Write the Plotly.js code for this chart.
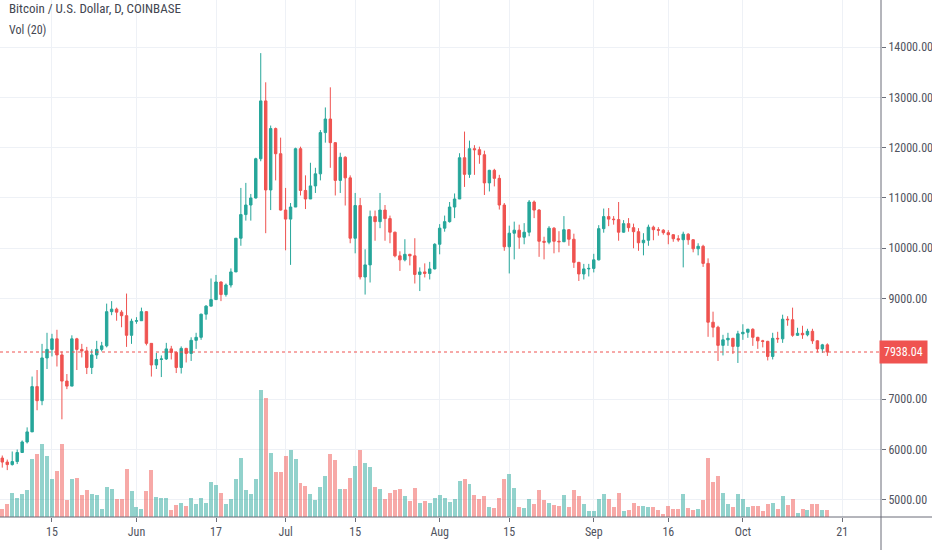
<!DOCTYPE html>
<html>
<head>
<meta charset="utf-8">
<script src="https://cdn.plot.ly/plotly-3.0.1.min.js"></script>
<style>
  html, body { margin: 0; padding: 0; background: #ffffff; }
  #chart { width: 932px; height: 550px; }
</style>
</head>
<body>
<div id="chart"></div>
<script>
// ---- Data: Bitcoin / U.S. Dollar, daily, Coinbase (5 May 2019 - 18 Oct 2019) ----
const START_DATE = '2019-05-05';

const openPrices = [
  // May 5-31
  5830,5750,5700,5760,5940,6150,6350,7250,6970,7820,7990,8200,7880,7360,7260,8200,7990,7960,7630,7880,7990,8060,8740,8790,8730,8660,8270,
  // Jun
  8550,8560,8740,8110,7680,7790,7800,8000,7930,7630,8010,7910,8170,8230,8690,8850,8980,9330,9080,9270,9530,10200,10670,10860,11000,11780,12930,11160,12380,11880,
  // Jul
  10760,10580,10820,11980,11150,10980,11240,11480,12300,12570,12100,11350,11810,11400,10200,10850,9430,9670,10630,10530,10760,10590,10320,9850,9770,9880,9850,9480,9530,9500,9590,
  // Aug
  10080,10400,10530,10820,10980,11800,11470,11980,11960,11860,11300,11550,11390,10860,10030,10300,10360,10220,10320,10920,10760,10140,10120,10400,10140,10130,10370,10180,9720,9490,9590,
  // Sep
  9600,9770,10390,10630,10580,10570,10320,10490,10410,10330,10110,10160,10420,10370,10360,10310,10270,10190,10170,10280,10170,9990,10040,9700,8530,8430,8070,8180,8210,8050,
  // Oct 1-18
  8300,8330,8390,8230,8160,8150,7850,8210,8200,8590,8580,8270,8310,8280,8350,8160,8000,8080
];
const highPrices = [
  5880,5800,5960,6000,6180,6440,7450,7580,8100,8320,8300,8380,7950,7500,8270,8220,8100,8040,7990,8160,8140,8900,8950,8820,8770,9100,8600,
  8630,8820,8750,8110,7920,7870,8120,8060,7950,8050,8020,8230,8320,8700,8870,9400,9470,9340,9300,9600,10200,11200,11300,11080,11800,13880,13300,12440,12400,12200,
  11200,10900,12000,12020,11450,11700,11600,12350,12800,13200,12110,11900,11830,11450,11100,11000,9980,10750,10750,11100,10860,10650,10330,9940,10180,9890,10200,9620,9700,9730,10100,
  10480,10650,10920,11090,11890,12320,12140,12050,12020,11940,11560,11580,11460,10900,10450,10530,10470,10500,10960,10950,10780,10230,10440,10420,10340,10640,10380,10290,9730,9690,9690,
  9890,10460,10790,10800,10640,10920,10560,10600,10490,10400,10300,10470,10450,10420,10380,10360,10280,10260,10330,10300,10180,10100,10070,9800,8740,8460,8280,8320,8220,8360,
  8490,8400,8410,8240,8180,8160,8320,8340,8680,8650,8820,8420,8460,8400,8400,8170,8100,8110
];
const lowPrices = [
  5640,5590,5680,5710,5930,6120,6350,6780,6880,7600,7850,7650,6600,7200,7260,7580,7830,7500,7500,7800,7950,8030,8670,8560,8430,8040,8100,
  8500,8560,8070,7450,7600,7440,7780,7790,7520,7510,7730,7760,8000,8180,8580,8850,8980,8950,9040,9220,9530,10050,10550,10550,10990,11730,10300,10760,11350,10750,
  9960,9670,10820,11050,10780,10980,11100,11350,12100,11600,11050,11100,10850,10100,9900,9380,9080,9320,10150,10400,10150,10100,9820,9550,9740,9660,9300,9150,9420,9380,9580,
  9880,10330,10510,10600,10980,11220,11400,11460,11680,11060,11130,11230,10770,9950,9500,9780,9990,10080,10240,10600,9830,9780,10080,9900,9920,10130,10050,9610,9350,9380,9440,
  9520,9760,10310,10440,10470,10150,10310,10330,10000,9950,9860,10050,10160,10250,10270,10080,10130,10130,9620,10070,9920,9860,9630,8240,8230,7760,7870,8060,7900,7720,
  8180,8220,8060,8000,8030,7770,7790,8120,8120,8460,8240,8260,8200,8250,8100,7930,7920,7860
];
const closePrices = [
  5750,5700,5760,5940,6150,6350,7250,6970,7820,7990,8200,7880,7360,7260,8200,7990,7960,7630,7880,7990,8060,8740,8790,8730,8660,8270,8550,
  8560,8740,8110,7680,7790,7800,8000,7930,7630,8010,7910,8170,8230,8690,8850,8980,9330,9080,9270,9530,10200,10670,10860,11000,11780,12930,11160,12380,11880,10760,
  10580,10820,11980,11150,10980,11240,11480,12300,12570,12100,11350,11810,11400,10200,10850,9430,9670,10630,10530,10760,10590,10320,9850,9770,9880,9850,9480,9530,9500,9590,10080,
  10400,10530,10820,10980,11800,11470,11980,11960,11860,11300,11550,11390,10860,10030,10300,10360,10220,10320,10920,10760,10140,10120,10400,10140,10130,10370,10180,9720,9490,9590,9600,
  9770,10390,10630,10580,10570,10320,10490,10410,10330,10110,10160,10420,10370,10360,10310,10270,10190,10170,10280,10170,9990,10040,9700,8530,8430,8070,8180,8210,8050,8300,
  8330,8390,8230,8160,8150,7850,8210,8200,8590,8580,8270,8310,8280,8350,8160,8000,8080,7938.04
];
const volumes = [
  5000,8000,14600,11600,13600,16400,34600,38000,44000,36400,22800,27600,44000,10200,22800,23400,13000,16000,13800,13000,4800,17800,16600,11000,11000,28800,15400,
  6200,4600,15400,28200,12200,11600,11600,4200,7200,8600,6800,11400,7800,11400,8600,21000,19000,14600,7800,11000,23000,35400,16000,14000,23000,76000,71600,38600,26800,26800,
  36600,40000,35000,20600,18800,13600,10000,18200,24800,37800,34200,16600,16600,23400,30800,40000,32600,30000,18200,16600,11000,14400,16000,16600,12400,9400,17400,8400,9400,8400,11400,
  13000,11400,9000,11000,21400,22600,19800,13000,11000,12400,6000,5400,11400,22600,25800,17400,6200,5400,10800,7800,16000,10200,8400,7200,6600,13000,6200,16000,12800,7800,3400,
  3400,11000,13600,11000,6200,14600,3400,4000,8600,6800,6600,6200,6200,4000,1800,6800,4800,4800,13600,5600,4000,4800,10000,35400,21200,24800,14600,7800,6200,13600,
  11000,6200,6800,6800,3400,7800,8600,4800,12800,7000,11000,2600,4800,4000,7800,7800,4000,4000
];

const tickDates  = ['2019-05-15','2019-06-01','2019-06-17','2019-07-01','2019-07-15','2019-08-01','2019-08-15','2019-09-01','2019-09-16','2019-10-01','2019-10-21'];
const tickLabels = ['15','Jun','17','Jul','15','Aug','15','Sep','16','Oct','21'];
const priceTicks = [5000,6000,7000,9000,10000,11000,12000,13000,14000];
const lastPrice  = 7938.04;

// ---- Build dates (one per trading day, consecutive calendar days) ----
const dates = [];
{
  const d0 = new Date(START_DATE + 'T00:00:00Z');
  for (let i = 0; i < closePrices.length; i++) {
    const d = new Date(d0.getTime() + i * 86400000);
    dates.push(d.toISOString().slice(0, 10));
  }
}

const UP = '#26a69a', DOWN = '#ef5350';
const UP_VOL = 'rgba(38,166,154,0.5)', DOWN_VOL = 'rgba(239,83,80,0.5)';
const volColors = closePrices.map((c, i) => c >= openPrices[i] ? UP_VOL : DOWN_VOL);

const FONT = '"Liberation Sans Narrow", "Roboto Condensed", "Open Sans", sans-serif';
const TXT = '#50535e';
const GRID = '#eef1f6';
const AXIS = '#6a6d78';

const volumeTrace = {
  type: 'bar',
  x: dates,
  y: volumes,
  marker: { color: volColors, line: { width: 0 } },
  width: 0.8 * 86400000,
  xaxis: 'x',
  yaxis: 'y',
  hoverinfo: 'skip',
  showlegend: false
};

const candleTrace = {
  type: 'candlestick',
  x: dates,
  open: openPrices,
  high: highPrices,
  low: lowPrices,
  close: closePrices,
  increasing: { line: { color: UP, width: 1 }, fillcolor: UP },
  decreasing: { line: { color: DOWN, width: 1 }, fillcolor: DOWN },
  whiskerwidth: 0,
  xaxis: 'x',
  yaxis: 'y2',
  hoverinfo: 'skip',
  showlegend: false
};

const layout = {
  width: 932,
  height: 550,
  margin: { l: 0, r: 51, t: 0, b: 33, pad: 0 },
  paper_bgcolor: '#ffffff',
  plot_bgcolor: '#ffffff',
  font: { family: FONT, size: 11, color: TXT },
  showlegend: false,
  bargap: 0,
  xaxis: {
    type: 'date',
    range: ['2019-05-04 13:00', '2019-10-28 19:00'],
    tickmode: 'array',
    tickvals: tickDates,
    ticktext: tickLabels,
    ticks: 'outside',
    ticklen: 4,
    tickcolor: AXIS,
    showgrid: true,
    gridcolor: GRID,
    gridwidth: 1,
    zeroline: false,
    showline: false,
    rangeslider: { visible: false },
    tickfont: { family: FONT, size: 12, color: TXT },
    fixedrange: true
  },
  yaxis: {
    range: [0, 310000],
    visible: false,
    showgrid: false,
    zeroline: false,
    fixedrange: true
  },
  yaxis2: {
    overlaying: 'y',
    side: 'right',
    range: [4658, 14936],
    tickmode: 'array',
    tickvals: priceTicks,
    ticktext: priceTicks.map(v => v.toFixed(2)),
    ticks: 'outside',
    ticklen: 4,
    tickcolor: AXIS,
    showgrid: true,
    gridcolor: GRID,
    gridwidth: 1,
    zeroline: false,
    showline: false,
    tickfont: { family: FONT, size: 12, color: TXT },
    fixedrange: true
  },
  shapes: [
    // last price dotted line
    { type: 'line', xref: 'paper', yref: 'y2', x0: 0, x1: 1, y0: lastPrice, y1: lastPrice,
      line: { color: DOWN, width: 1, dash: 'dot' } },
    // price axis border (full height)
    { type: 'line', xref: 'paper', yref: 'paper', x0: 1, x1: 1, y0: -0.2, y1: 1.0,
      line: { color: AXIS, width: 1 } },
    // time axis border (full width)
    { type: 'line', xref: 'paper', yref: 'paper', x0: 0, x1: 1.06, y0: 0, y1: 0,
      line: { color: AXIS, width: 1 } }
  ],
  annotations: [
    { xref: 'paper', yref: 'paper', x: 0.008, y: 0.984, xanchor: 'left', yanchor: 'middle',
      text: 'Bitcoin / U.S. Dollar, D, COINBASE', showarrow: false,
      font: { family: FONT, size: 13, color: '#434651' } },
    { xref: 'paper', yref: 'paper', x: 0.008, y: 0.942, xanchor: 'left', yanchor: 'middle',
      text: 'Vol (20)', showarrow: false,
      font: { family: FONT, size: 12, color: '#434651' } },
    { xref: 'paper', yref: 'y2', x: 0.998, y: lastPrice, xanchor: 'left', yanchor: 'middle',
      text: lastPrice.toFixed(2), showarrow: false, bgcolor: DOWN, borderpad: 4,
      font: { family: FONT, size: 12, color: '#ffffff' } }
  ]
};

Plotly.newPlot('chart', [volumeTrace, candleTrace], layout, { displayModeBar: false, staticPlot: true });
</script>
</body>
</html>
